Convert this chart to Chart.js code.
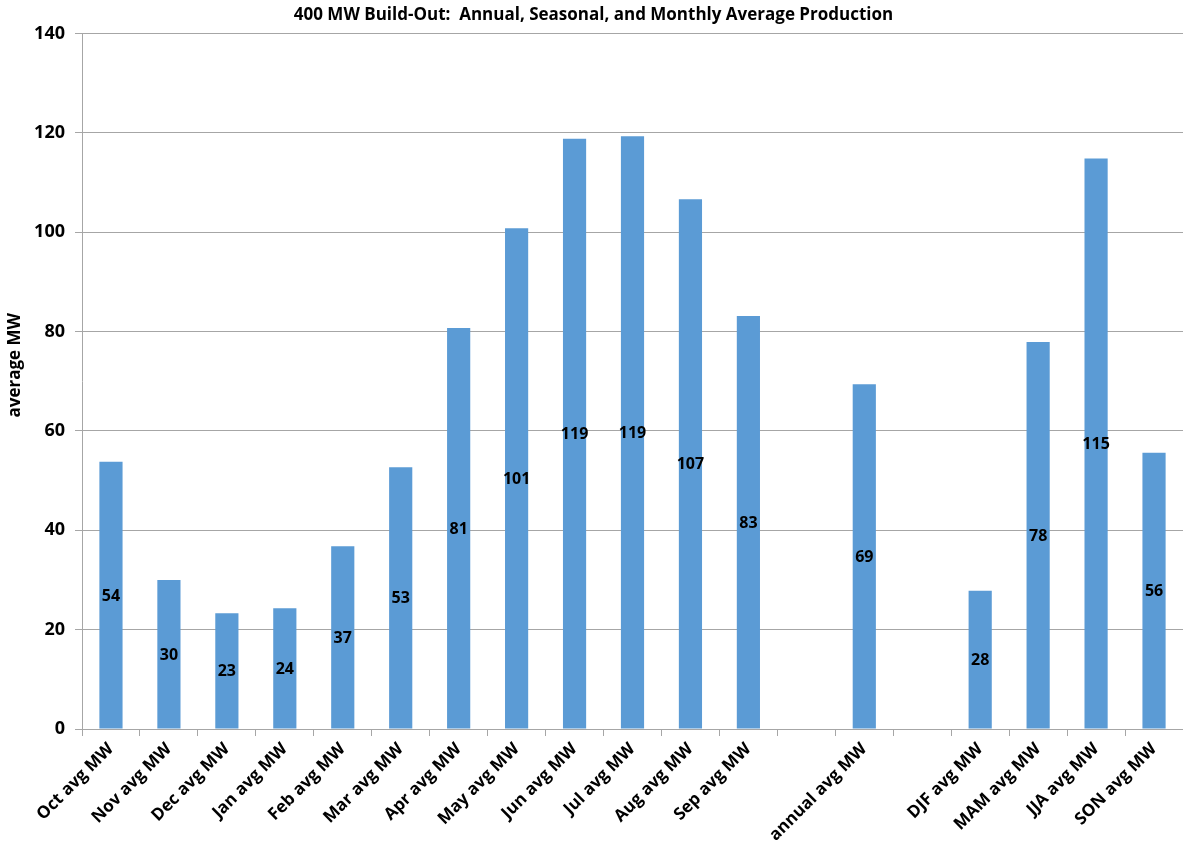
<!DOCTYPE html>
<html>
<head>
<meta charset="utf-8">
<script src="https://cdn.jsdelivr.net/npm/chart.js@4.4.1/dist/chart.umd.min.js"></script>
<style>
  html, body { margin: 0; padding: 0; background: #ffffff; }
  #wrap { position: relative; width: 1183px; height: 857px; }
</style>
</head>
<body>
<div id="wrap"><canvas id="chart"></canvas></div>
<script>
// Monthly, annual and seasonal average output of the 400 MW build-out.
// Empty slots keep the monthly, annual and seasonal groups apart.
const categories = [
  'Oct avg MW', 'Nov avg MW', 'Dec avg MW', 'Jan avg MW', 'Feb avg MW', 'Mar avg MW',
  'Apr avg MW', 'May avg MW', 'Jun avg MW', 'Jul avg MW', 'Aug avg MW', 'Sep avg MW',
  '', 'annual avg MW', '',
  'DJF avg MW', 'MAM avg MW', 'JJA avg MW', 'SON avg MW'
];
const averageMW = [
  53.8, 30.0, 23.3, 24.3, 36.8, 52.7,
  80.7, 100.8, 118.8, 119.3, 106.6, 83.1,
  null, 69.4, null,
  27.8, 77.9, 114.8, 55.6
];
const yTicks = [0, 20, 40, 60, 80, 100, 120, 140];
const yAxisTitle = 'average MW';

const FONT = '"Open Sans", Lato, "DejaVu Sans", sans-serif';

// Writes each bar's rounded value at the middle of the bar.
const barValueLabels = {
  id: 'barValueLabels',
  afterDatasetsDraw(chart) {
    const ctx = chart.ctx;
    const meta = chart.getDatasetMeta(0);
    ctx.save();
    ctx.font = 'bold 16px ' + FONT;
    ctx.fillStyle = '#000000';
    ctx.textAlign = 'center';
    ctx.textBaseline = 'middle';
    meta.data.forEach((bar, i) => {
      const v = chart.data.datasets[0].data[i];
      if (v === null || v === undefined) return;
      const mid = (bar.y + bar.base) / 2;
      ctx.fillText(String(Math.round(v)), bar.x, mid + 1);
    });
    ctx.restore();
  }
};

// Vertical axis title, set a little above the middle of the value axis.
const valueAxisTitle = {
  id: 'valueAxisTitle',
  afterDraw(chart) {
    const ctx = chart.ctx;
    const area = chart.chartArea;
    ctx.save();
    ctx.translate(15, (area.top + area.bottom) / 2 - 16);
    ctx.rotate(-Math.PI / 2);
    ctx.font = 'bold 17px ' + FONT;
    ctx.fillStyle = '#000000';
    ctx.textAlign = 'center';
    ctx.textBaseline = 'middle';
    ctx.fillText(yAxisTitle, 0, 0);
    ctx.restore();
  }
};

new Chart(document.getElementById('chart'), {
  type: 'bar',
  data: {
    labels: categories,
    datasets: [{
      label: yAxisTitle,
      data: averageMW,
      backgroundColor: '#5B9BD5',
      borderWidth: 0,
      categoryPercentage: 1.0,
      barPercentage: 0.40
    }]
  },
  options: {
    responsive: true,
    maintainAspectRatio: false,
    animation: false,
    layout: { padding: { left: 4, right: 0, top: 0, bottom: 0 } },
    plugins: {
      legend: { display: false },
      tooltip: { enabled: false },
      title: {
        display: true,
        text: '400 MW Build-Out:  Annual, Seasonal, and Monthly Average Production',
        color: '#000000',
        font: { family: FONT, size: 17, weight: 'bold' },
        padding: { top: 5, bottom: 8 }
      }
    },
    scales: {
      x: {
        offset: true,
        grid: {
          offset: true,
          drawOnChartArea: false,
          drawTicks: true,
          tickLength: 7,
          color: '#A6A6A6',
          lineWidth: 1
        },
        border: { display: true, color: '#A6A6A6', width: 1 },
        ticks: {
          autoSkip: false,
          minRotation: 45,
          maxRotation: 45,
          color: '#000000',
          padding: 3,
          font: { family: FONT, size: 17, weight: 'bold' }
        },
        afterFit(scale) { scale.height = 128; }
      },
      y: {
        min: 0,
        max: 140,
        afterBuildTicks(scale) { scale.ticks = yTicks.map(v => ({ value: v })); },
        grid: {
          color: '#A6A6A6',
          lineWidth: 1,
          drawTicks: true,
          tickLength: 7
        },
        border: { display: true, color: '#A6A6A6', width: 1 },
        ticks: {
          color: '#000000',
          padding: 10,
          font: { family: FONT, size: 18, weight: 'bold' }
        },
        afterFit(scale) { scale.width = 78; }
      }
    }
  },
  plugins: [barValueLabels, valueAxisTitle]
});
</script>
</body>
</html>
